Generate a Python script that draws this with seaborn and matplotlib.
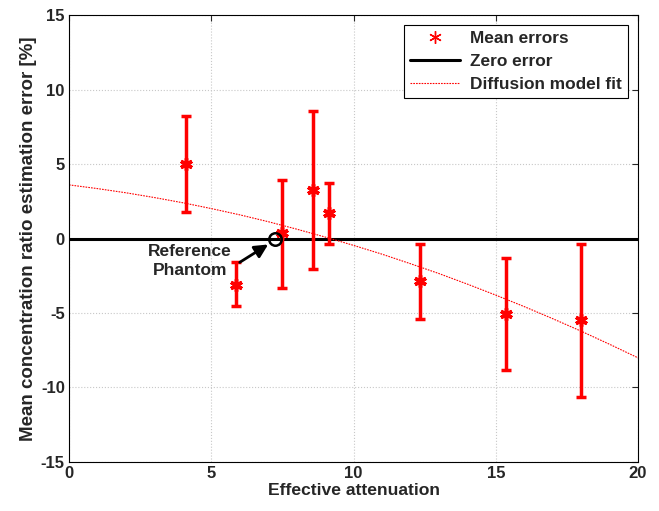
import numpy as np
import pandas as pd
import matplotlib
matplotlib.use("Agg")
import matplotlib.pyplot as plt
import seaborn as sns

# Data
atten = [4.1, 5.87, 7.49, 8.58, 9.14, 12.34, 15.36, 18.0]
mean_err = [5.0, -3.1, 0.35, 3.25, 1.68, -2.86, -5.08, -5.5]
err_upper = [8.2, -1.6, 3.95, 8.55, 3.75, -0.38, -1.34, -0.38]
err_lower = [1.8, -4.56, -3.3, -2.08, -0.34, -5.37, -8.8, -10.65]

fit_x = [0, 1, 2, 3, 4, 5, 6, 7, 8, 9, 10, 11, 12, 13, 14, 15, 16, 17, 18, 19, 20]
fit_y = [3.60, 3.35, 3.07, 2.75, 2.40, 2.01, 1.59, 1.13, 0.63, 0.10, -0.46,
         -1.05, -1.69, -2.35, -3.06, -3.80, -4.57, -5.38, -6.22, -7.10, -8.01]

zero_x = [0, 20]
zero_y = [0, 0]

ref_x = [7.24]
ref_y = [0.0]

xticks = [0, 5, 10, 15, 20]
yticks = [-15, -10, -5, 0, 5, 10, 15]

sns.set_style("white")
plt.rcParams['font.family'] = ['Liberation Sans', 'DejaVu Sans']
plt.rcParams['font.weight'] = 'bold'
plt.rcParams['axes.unicode_minus'] = False

fig = plt.figure(figsize=(6.59, 5.11), dpi=100)
ax = fig.add_axes([0.1047, 0.0959, 0.8635, 0.8747])

yerr = np.array([np.array(mean_err) - np.array(err_lower),
                 np.array(err_upper) - np.array(mean_err)])
ax.errorbar(atten, mean_err, yerr=yerr, fmt='none', ecolor='red',
            elinewidth=2.5, capsize=3.5, capthick=2.5, zorder=3)

sns.lineplot(x=zero_x, y=zero_y, ax=ax, color='black', linewidth=2.2,
             label='Zero error', zorder=2)
sns.lineplot(x=fit_x, y=fit_y, ax=ax, color='red', linewidth=0.8,
             linestyle=(0, (1.5, 1)), label='Diffusion model fit', zorder=2)
ax.plot(atten, mean_err, linestyle='none', marker=(6, 2, 0), markersize=9,
        markeredgewidth=2.5, color='red', zorder=4)

# legend handle for mean errors
ax.plot([], [], linestyle='none', marker=(6, 2, 0), markersize=9,
        markeredgewidth=1, color='red', label='Mean errors')

ax.plot(ref_x, ref_y, linestyle='none', marker='o', markersize=9,
        markerfacecolor='none', markeredgecolor='black', markeredgewidth=1.8,
        zorder=5)
ax.text(4.25, -1.5, 'Reference\nPhantom', ha='center', va='center',
        fontsize=12.5, fontweight='bold', linespacing=1.35)
ax.annotate('', xy=(7.0, -0.4), xytext=(6.0, -1.6),
            arrowprops=dict(arrowstyle='-|>', color='black', lw=2,
                            mutation_scale=20, shrinkA=0, shrinkB=0))

ax.set_xlim(0, 20)
ax.set_ylim(-15, 15)
ax.set_xticks(xticks)
ax.set_yticks(yticks)
ax.tick_params(direction='in', length=4, labelsize=12, top=True, right=True,
               pad=3)
for lab in ax.get_xticklabels() + ax.get_yticklabels():
    lab.set_fontweight('bold')
ax.grid(True, color='#c8c8c8', linestyle=':', linewidth=0.8)
for s in ax.spines.values():
    s.set_color('black')
    s.set_linewidth(0.8)

ax.set_xlabel('Effective attenuation', fontsize=12.6, fontweight='bold',
              labelpad=1)
ax.set_ylabel('Mean concentration ratio estimation error [%]', fontsize=13.5,
              fontweight='bold', labelpad=3)

handles, labels = ax.get_legend_handles_labels()
order = [labels.index('Mean errors'), labels.index('Zero error'),
         labels.index('Diffusion model fit')]
leg = ax.legend([handles[i] for i in order], [labels[i] for i in order],
                loc='upper right', fontsize=12.4, frameon=True, fancybox=False,
                edgecolor='black', framealpha=1, borderaxespad=0.6,
                handlelength=2.9, handletextpad=0.6, labelspacing=0.45,
                borderpad=0.35)
leg.get_frame().set_linewidth(0.8)
for t in leg.get_texts():
    t.set_fontweight('bold')

fig.savefig('out.png', dpi=100)
